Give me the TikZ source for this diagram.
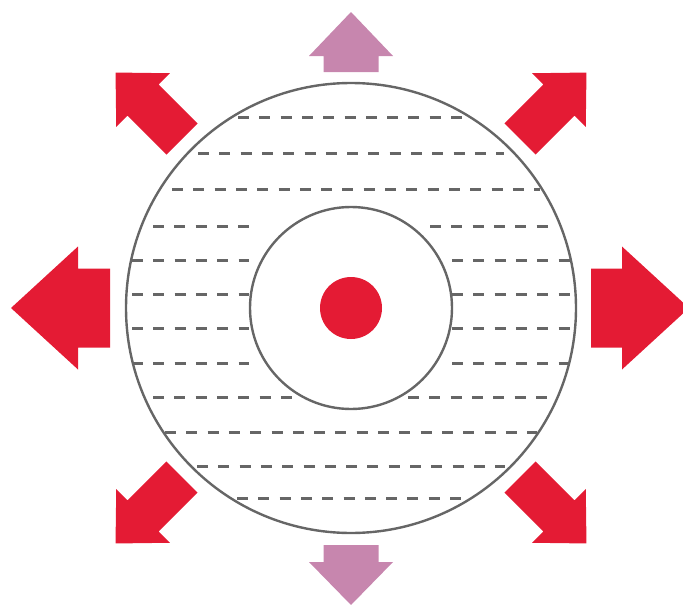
\documentclass[tikz,border=0pt]{standalone}
\usepackage{xcolor}
\usepackage{tikz}
\definecolor{hotred}{RGB}{228,27,52}
\definecolor{softpink}{RGB}{199,134,174}
\definecolor{ringgray}{RGB}{102,102,102}

% block arrow pointing along +x: shaft start, head base, tip, shaft half, head half
\tikzset{
  pics/blockarrow/.style n args={5}{code={
    \fill (#1,-#4) -- (#2,-#4) -- (#2,-#5) -- (#3,0) -- (#2,#5) -- (#2,#4) -- (#1,#4) -- cycle;
  }}
}

\begin{document}
\begin{tikzpicture}[x=1pt, y=-1pt,
  ring/.style={draw=ringgray, line width=2.4pt},
  hatch/.style={draw=ringgray, line width=3pt, dash pattern=on 11pt off 10.3pt},
  redarrow/.style={fill=hotred},
  pinkarrow/.style={fill=softpink}]
\useasboundingbox (0,0) rectangle (683,605);
\clip (0,0) rectangle (683,605);
\coordinate (hub) at (351,308);

% horizontal dashes
\foreach \yy/\xa/\xb in {117/238/462, 153/198/504, 189/172/540,
                         432/165/537, 466/197/505, 498/237/465}
  \draw[hatch] (\xa,\yy) -- (\xb,\yy);
\foreach \yy/\xa/\xb/\xc/\xd in {226/153/249/430/548, 260/132/249/452/570,
    294/132/249/452/570, 328/132/249/452/570, 363/132/249/452/570,
    397/153/293/408/550}
  {\draw[hatch] (\xa,\yy) -- (\xb,\yy);
   \draw[hatch] (\xc,\yy) -- (\xd,\yy);}

% rings and core
\draw[ring, fill=white] (hub) circle[radius=101];
\draw[ring] (hub) circle[radius=225];
\fill[hotred] (hub) circle[radius=31];

% arrows
\pic[redarrow, rotate=0] at (hub) {blockarrow={240}{271}{338}{39.5}{61.5}};
\pic[redarrow, rotate=180] at (hub) {blockarrow={241}{273}{340}{39.5}{61.5}};
\pic[pinkarrow, rotate=90] at (hub) {blockarrow={236}{252}{296}{27.5}{42}};
\pic[pinkarrow, rotate=270] at (hub) {blockarrow={237}{254}{297}{27.5}{42}};
\pic[redarrow, rotate=45] at (hub) {blockarrow={239}{294}{333}{22}{38}};
\pic[redarrow, rotate=135] at (hub) {blockarrow={239}{294}{333}{22}{38}};
\pic[redarrow, rotate=225] at (hub) {blockarrow={239}{294}{333}{22}{38}};
\pic[redarrow, rotate=315] at (hub) {blockarrow={239}{294}{333}{22}{38}};
\end{tikzpicture}
\end{document}
